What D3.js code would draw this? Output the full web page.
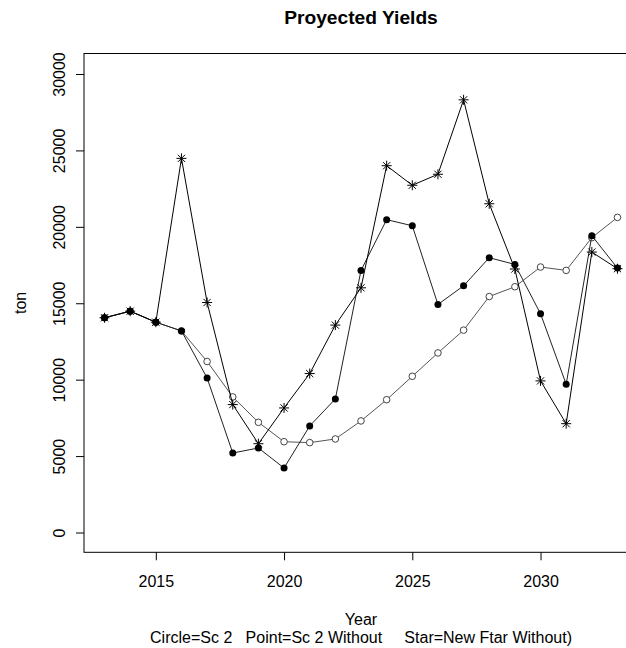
<!DOCTYPE html>
<html>
<head>
<meta charset="utf-8">
<script src="https://cdn.jsdelivr.net/npm/d3@7"></script>
<style>
  body { margin: 0; background: #fff; }
  text { font-family: "Liberation Sans", Arial, sans-serif; fill: #000; }
</style>
</head>
<body>
<div id="graf"></div>
<script>
// Datos
const years = [2013, 2014, 2015, 2016, 2017, 2018, 2019, 2020, 2021, 2022, 2023,
  2024, 2025, 2026, 2027, 2028, 2029, 2030, 2031, 2032, 2033];
const sc2 = [14050, 14480, 13760, 13190, 11190, 8870, 7210, 5940, 5880, 6120, 7300,
  8690, 10220, 11750, 13240, 15440, 16080, 17370, 17150, 19290, 20620];
const sc2Without = [14050, 14480, 13760, 13190, 10110, 5200, 5530, 4220, 6970, 8740, 17150,
  20470, 20070, 14920, 16140, 17980, 17540, 14310, 9700, 19420, 17300];
const newFtar = [14050, 14480, 13760, 24480, 15050, 8370, 5810, 8150, 10400, 13570, 16010,
  24000, 22720, 23440, 28310, 21510, 17240, 9920, 7120, 18350, 17260];
const yTicks = [0, 5000, 10000, 15000, 20000, 25000, 30000];
const xTicks = [2015, 2020, 2025, 2030];

// Dimensiones
const anchoTotal = 626;
const altoTotal = 648;
const box = { left: 84, right: 638, top: 53.5, bottom: 552.3 };

const svg = d3.select("#graf")
  .append("svg")
  .attr("width", anchoTotal)
  .attr("height", altoTotal);

// Escalas (rango con el 4% extra que pone R)
const x = d3.scaleLinear().domain([2012.2, 2033.8]).range([box.left, box.right]);
const y = d3.scaleLinear().domain([0, 30000]).range([532.5, 74]);

// Caja
svg.append("rect")
  .attr("x", box.left)
  .attr("y", box.top)
  .attr("width", box.right - box.left)
  .attr("height", box.bottom - box.top)
  .attr("fill", "none")
  .attr("stroke", "#000")
  .attr("stroke-width", 1);

// Ejes
const xAxis = svg.append("g")
  .attr("transform", `translate(0, ${box.bottom})`)
  .call(d3.axisBottom(x).tickValues(xTicks).tickFormat(d3.format("d")).tickSize(8).tickPadding(15));
xAxis.select(".domain").remove();
xAxis.selectAll("text").style("font-size", "16px").attr("fill", "#000");

const yAxis = svg.append("g")
  .attr("transform", `translate(${box.left}, 0)`)
  .call(d3.axisLeft(y).tickValues(yTicks).tickFormat(d3.format("d")).tickSize(8));
yAxis.select(".domain").remove();
yAxis.selectAll("text")
  .style("font-size", "16px")
  .attr("fill", "#000")
  .attr("text-anchor", "middle")
  .attr("x", 0)
  .attr("dy", 0)
  .attr("transform", "translate(-19, 0) rotate(-90)");

// Titulos
svg.append("text")
  .attr("x", (box.left + box.right) / 2)
  .attr("y", 24)
  .attr("text-anchor", "middle")
  .style("font-size", "19.2px")
  .style("font-weight", "bold")
  .text("Proyected Yields");

svg.append("text")
  .attr("x", (box.left + box.right) / 2)
  .attr("y", 625)
  .attr("text-anchor", "middle")
  .style("font-size", "16px")
  .text("Year");

svg.append("text")
  .attr("x", (box.left + box.right) / 2)
  .attr("y", 643)
  .attr("text-anchor", "middle")
  .style("font-size", "16px")
  .style("white-space", "pre")
  .attr("xml:space", "preserve")
  .text("Circle=Sc 2   Point=Sc 2 Without     Star=New Ftar Without)");

svg.append("text")
  .attr("transform", `translate(26, ${(box.top + box.bottom) / 2}) rotate(-90)`)
  .attr("text-anchor", "middle")
  .style("font-size", "16px")
  .text("ton");

// Series
const line = d3.line().x((d, i) => x(years[i])).y((d) => y(d));

const series = [
  { values: sc2, color: "#555", kind: "circle" },
  { values: sc2Without, color: "#222", kind: "point" },
  { values: newFtar, color: "#000", kind: "star" },
];

const starPath = (() => {
  const r = 5, k = r * 0.72;
  return `M${-r},0H${r}M0,${-r}V${r}M${-k},${-k}L${k},${k}M${-k},${k}L${k},${-k}`;
})();

series.forEach((s) => {
  const g = svg.append("g");
  g.append("path")
    .datum(s.values)
    .attr("d", line)
    .attr("fill", "none")
    .attr("stroke", s.color)
    .attr("stroke-width", 1);

  const pts = g.selectAll(".m")
    .data(s.values)
    .enter();

  if (s.kind === "circle") {
    pts.append("circle")
      .attr("cx", (d, i) => x(years[i]))
      .attr("cy", (d) => y(d))
      .attr("r", 3.3)
      .attr("fill", "#fff")
      .attr("stroke", "#444")
      .attr("stroke-width", 1);
  } else if (s.kind === "point") {
    pts.append("circle")
      .attr("cx", (d, i) => x(years[i]))
      .attr("cy", (d) => y(d))
      .attr("r", 3.5)
      .attr("fill", "#000");
  } else {
    pts.append("path")
      .attr("d", starPath)
      .attr("transform", (d, i) => `translate(${x(years[i])}, ${y(d)})`)
      .attr("stroke", "#000")
      .attr("stroke-width", 1)
      .attr("fill", "none");
  }
});
</script>
</body>
</html>
